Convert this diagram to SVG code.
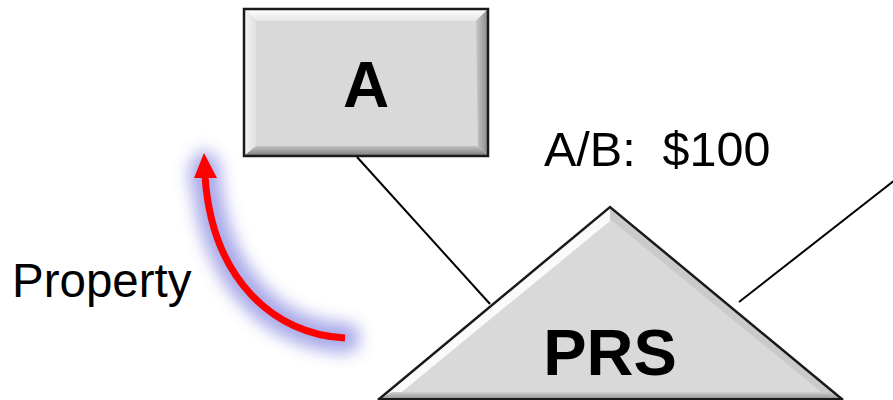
<svg xmlns="http://www.w3.org/2000/svg" width="893" height="400" viewBox="0 0 893 400">
  <style>
    .lbl { font-family: "Liberation Sans", Arial, sans-serif; fill: #000; }
    .big { font-weight: bold; text-anchor: middle; }
    .edge { stroke: #000; stroke-width: 2; fill: none; }
  </style>
  <defs>
    <linearGradient id="bevTop" x1="0" y1="0" x2="0" y2="1">
      <stop offset="0" stop-color="#ffffff"/>
      <stop offset="1" stop-color="#e6e6e6"/>
    </linearGradient>
    <linearGradient id="bevLeft" x1="0" y1="0" x2="1" y2="0">
      <stop offset="0" stop-color="#f4f4f4"/>
      <stop offset="1" stop-color="#e0e0e0"/>
    </linearGradient>
    <linearGradient id="bevBottom" x1="0" y1="0" x2="0" y2="1">
      <stop offset="0" stop-color="#c4c4c4"/>
      <stop offset="1" stop-color="#7a7a7a"/>
    </linearGradient>
    <linearGradient id="bevRight" x1="0" y1="0" x2="1" y2="0">
      <stop offset="0" stop-color="#c8c8c8"/>
      <stop offset="1" stop-color="#8a8a8a"/>
    </linearGradient>
    <linearGradient id="triBase" x1="0" y1="0" x2="0" y2="1">
      <stop offset="0" stop-color="#cfcfcf"/>
      <stop offset="1" stop-color="#8a8a8a"/>
    </linearGradient>
    <filter id="glow" x="-50%" y="-50%" width="200%" height="200%">
      <feGaussianBlur stdDeviation="8"/>
    </filter>
  </defs>

  <rect width="893" height="400" fill="#ffffff"/>

  <!-- connectors -->
  <g id="connectors">
    <line class="edge" x1="357" y1="157" x2="490" y2="304"/>
    <line class="edge" x1="739" y1="302" x2="895" y2="180"/>
  </g>

  <!-- node A: bevelled box -->
  <g id="node-a">
    <rect x="244" y="9" width="244" height="147" fill="#d9d9d9"/>
    <polygon points="244,9 488,9 476,21 256,21" fill="url(#bevTop)"/>
    <polygon points="244,9 256,21 256,146 244,156" fill="url(#bevLeft)"/>
    <polygon points="244,156 488,156 478,146 256,146" fill="url(#bevBottom)"/>
    <polygon points="488,9 488,156 478,146 476,21" fill="url(#bevRight)"/>
    <rect x="244" y="9" width="244" height="147" fill="none" stroke="#1a1a1a" stroke-width="2.5"/>
    <text class="lbl big" x="366" y="107" font-size="64">A</text>
  </g>

  <!-- node PRS: bevelled triangle -->
  <g id="node-prs">
    <polygon points="610,207 378,400 843,400" fill="#d9d9d9"/>
    <polygon points="610,207 378,400 392,400 610,221" fill="#fafafa"/>
    <polygon points="610,207 843,400 831,400 610,219" fill="#cacaca"/>
    <polygon points="392,392 829,392 843,400 378,400" fill="url(#triBase)"/>
    <polyline points="378,400 610,207 843,400" fill="none" stroke="#1a1a1a" stroke-width="2.5"/>
    <line x1="378" y1="399" x2="843" y2="399" stroke="#1a1a1a" stroke-width="2"/>
    <text class="lbl big" x="610" y="375" font-size="65">PRS</text>
  </g>

  <!-- edge label -->
  <g id="label-ab">
    <text class="lbl" x="544" y="166" font-size="48.5" xml:space="preserve">A/B:  $100</text>
  </g>

  <!-- property transfer arrow with glow -->
  <g id="property-arrow">
    <g filter="url(#glow)" opacity="0.8">
      <path d="M345,338 C275,335 212,280 205,168" fill="none" stroke="#9494e4" stroke-width="30" stroke-linecap="round"/>
      <path d="M204,146 L186,182 L222,182 Z" fill="#9494e4"/>
    </g>
    <path d="M345,338 C275,335 212,280 205,176" fill="none" stroke="#ff0000" stroke-width="7"/>
    <path d="M204,153 L194,178 L217,178 Z" fill="#ff0000"/>
    <text class="lbl" x="12" y="297" font-size="47.5">Property</text>
  </g>
</svg>
